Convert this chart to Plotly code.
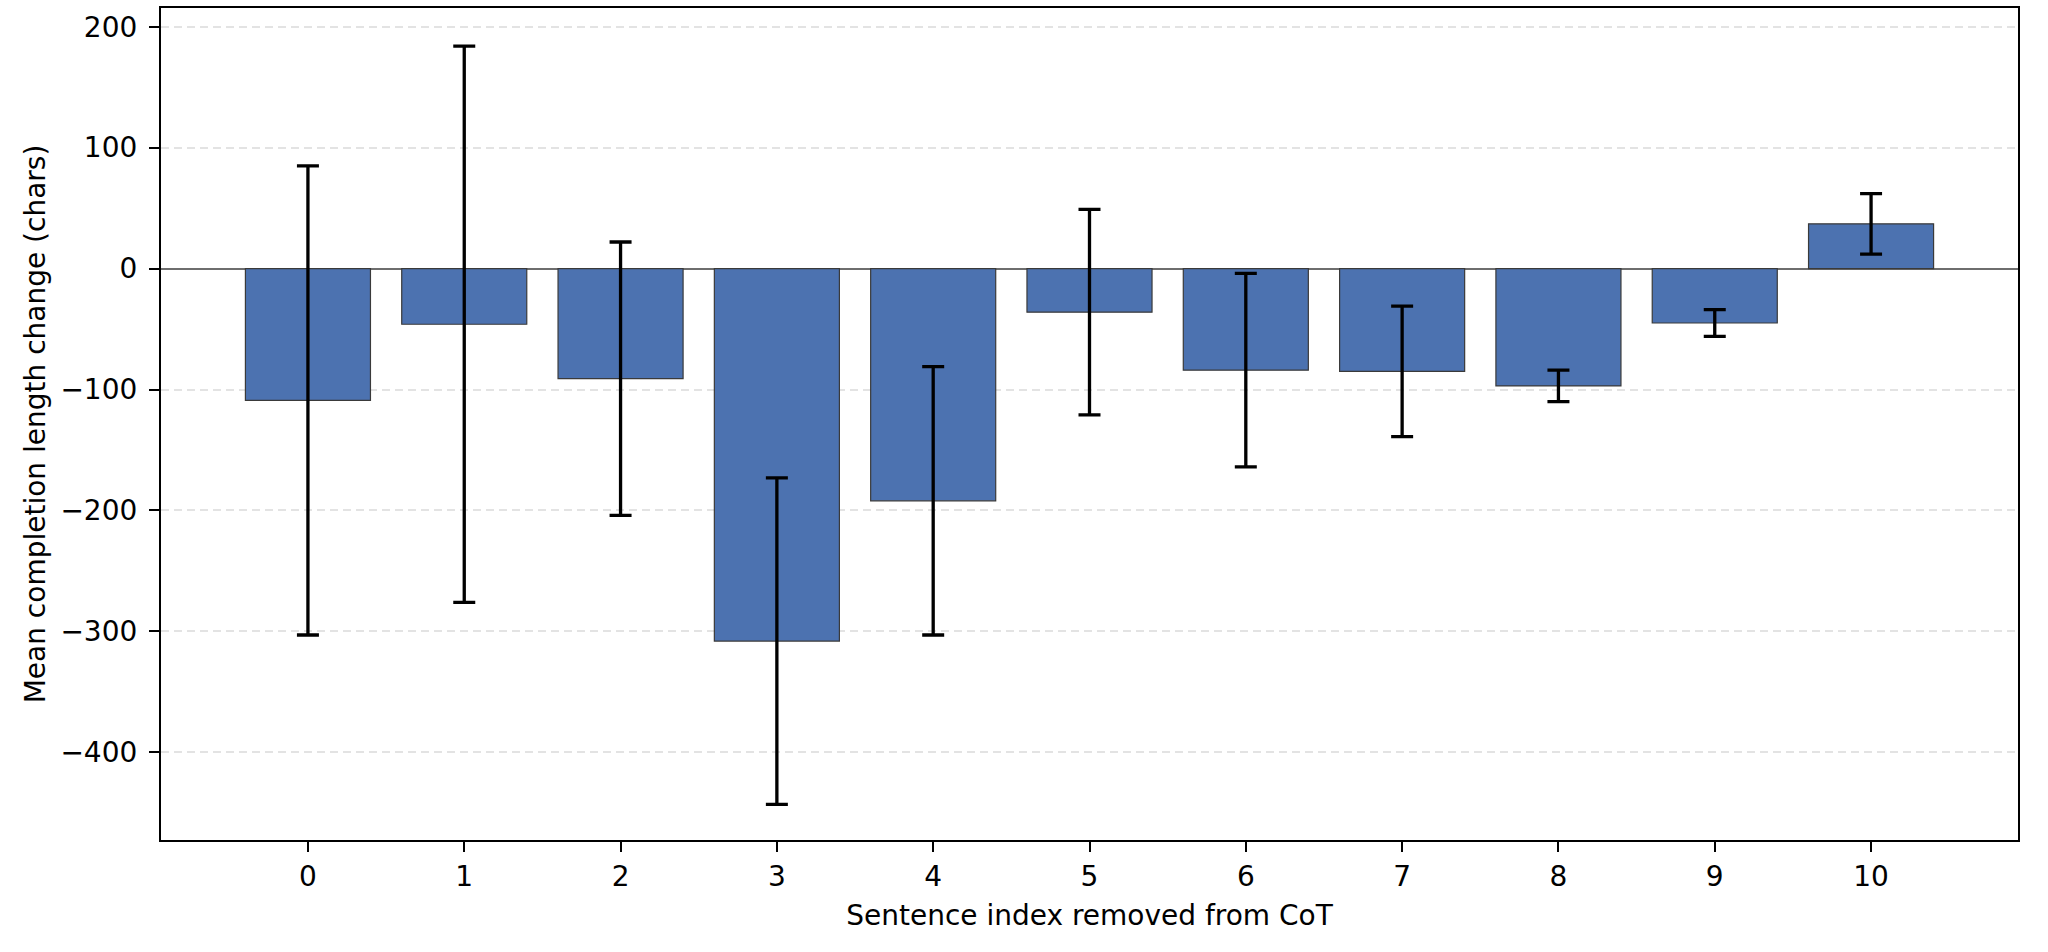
import plotly.graph_objects as go

# Data
sentence_index = [0, 1, 2, 3, 4, 5, 6, 7, 8, 9, 10]
mean_change = [-109, -46, -91, -308, -192, -36, -84, -85, -97, -45, 37]
error = [194, 230, 113, 135, 111, 85, 80, 54, 13, 11, 25]
y_ticks = [-400, -300, -200, -100, 0, 100, 200]

fig = go.Figure()
fig.add_trace(go.Bar(
    x=sentence_index,
    y=mean_change,
    width=0.8,
    marker=dict(color="#4c72b0", line=dict(color="#3a3a3a", width=1.2)),
    error_y=dict(type="data", array=error, symmetric=True,
                 color="black", thickness=3.3, width=11),
    showlegend=False,
))

font = dict(family="DejaVu Sans", size=28, color="black")

fig.update_layout(
    width=2048, height=952,
    margin=dict(l=161, r=30, t=6, b=112),
    paper_bgcolor="white", plot_bgcolor="white",
    font=font,
    bargap=0.2,
)
fig.update_xaxes(
    range=[-0.94, 10.94],
    tickmode="array", tickvals=sentence_index,
    ticktext=[str(v) for v in sentence_index],
    ticks="outside", ticklen=10, tickwidth=2.2, tickcolor="black",
    showline=True, mirror=True, linecolor="black", linewidth=2.2,
    showgrid=False, zeroline=False,
    title=dict(text="Sentence index removed from CoT", standoff=14, font=font),
    tickfont=font,
)
fig.update_yaxes(
    range=[-472.5, 215.5],
    tickmode="array", tickvals=y_ticks,
    ticks="outside", ticklen=10, tickwidth=2.2, tickcolor="black",
    showline=True, mirror=True, linecolor="black", linewidth=2.2,
    showgrid=True, gridcolor="#e3e3e3", gridwidth=1.5, griddash="8px,5px",
    zeroline=True, zerolinecolor="#6e6e6e", zerolinewidth=2.2,
    title=dict(text="Mean completion length change (chars)", standoff=7, font=font),
    tickfont=font,
    ticklabelstandoff=6,
)

fig.write_html("out.html", config={"displayModeBar": False},
               post_script="document.body.style.margin='0';")
